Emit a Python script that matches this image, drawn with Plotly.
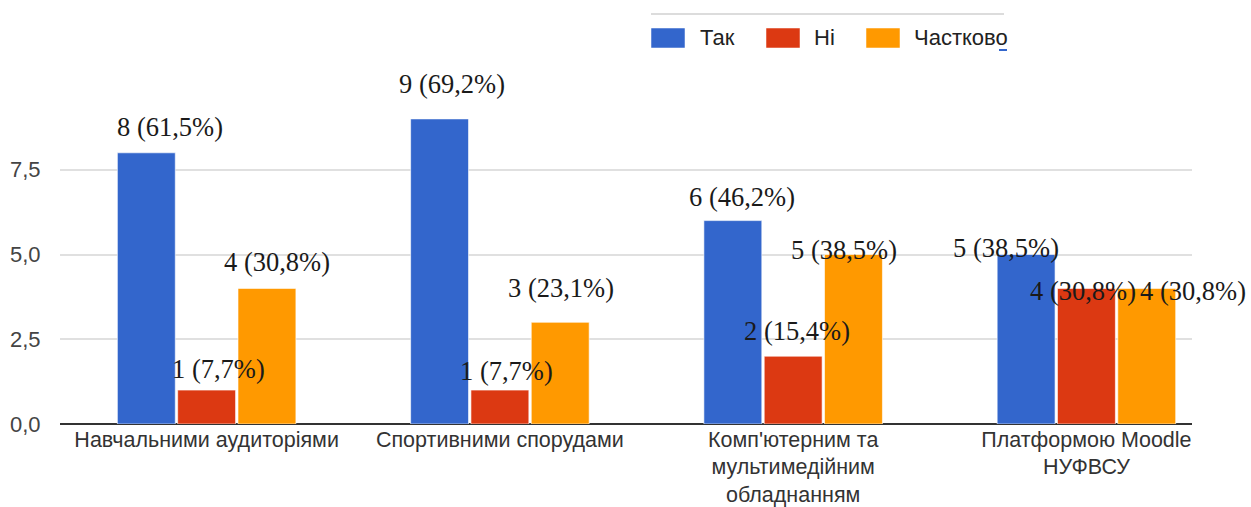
import plotly.graph_objects as go

# ---------------- data ----------------
categories = [
    "Навчальними аудиторіями",
    "Спортивними спорудами",
    "Комп'ютерним та<br>мультимедійним<br>обладнанням",
    "Платформою Moodle<br>НУФВСУ",
]
series_names = ["Так", "Ні", "Частково"]
series_colors = ["#3366CC", "#DC3912", "#FF9900"]
tak = [8, 9, 6, 5]
ni = [1, 1, 2, 4]
chastkovo = [4, 3, 5, 4]
labels_tak = ["8 (61,5%)", "9 (69,2%)", "6 (46,2%)", "5 (38,5%)"]
labels_ni = ["1 (7,7%)", "1 (7,7%)", "2 (15,4%)", "4 (30,8%)"]
labels_chastkovo = ["4 (30,8%)", "3 (23,1%)", "5 (38,5%)", "4 (30,8%)"]
ytick_vals = [0, 2.5, 5, 7.5, 10]
ytick_text = ["0,0", "2,5", "5,0", "7,5", ""]

# label nudges in pixels (style only): horizontal and vertical (centre above bar top)
label_dx = [[24, 12, 10], [12, 7, 1], [9, 4, -9], [-20, -3, 46]]
label_dy = [[26, 21, 26], [35, 19, 34], [24, 25, 5], [7, -3, -3]]

# ---------------- layout geometry ----------------
W, H = 1251, 507
ML, MR, MT, MB = 60, 59, 85, 83
X_RANGE = [-0.5, 3.36]
BARGAP = 0.383
BARGROUPGAP = 0.04
SANS = "Liberation Sans, Arial, sans-serif"
SERIF = "Liberation Serif, Times New Roman, serif"

plot_w = W - ML - MR
plot_h = H - MT - MB
px_per_cat = plot_w / (X_RANGE[1] - X_RANGE[0])
slot_px = (1 - BARGAP) / 3 * px_per_cat


def px_to_paper(px, py):
    return (px - ML) / plot_w, (H - MB - py) / plot_h


all_values = [tak, ni, chastkovo]
all_labels = [labels_tak, labels_ni, labels_chastkovo]

fig = go.Figure()
for s, (name, color, vals) in enumerate(zip(series_names, series_colors, all_values)):
    fig.add_trace(go.Bar(
        name=name, x=categories, y=vals,
        marker=dict(color=color, line=dict(color="rgba(255,255,255,0.6)", width=1)),
        showlegend=False, hoverinfo="skip",
    ))

annotations = []
for s in range(3):
    for i, cat in enumerate(categories):
        annotations.append(dict(
            x=cat, y=all_values[s][i], xref="x", yref="y",
            text=all_labels[s][i], showarrow=False,
            xanchor="center", yanchor="middle",
            xshift=(s - 1) * slot_px + label_dx[i][s],
            yshift=label_dy[i][s],
            font=dict(family=SERIF, size=26.5, color="#1a1a1a"),
        ))

# custom legend (wide swatches as in the original)
shapes = []
legend_items = [(651, 698), (766, 812), (866, 912)]
for (sx, tx), name, color in zip(legend_items, series_names, series_colors):
    x0, y0 = px_to_paper(sx, 48)
    x1, y1 = px_to_paper(sx + 34, 28)
    shapes.append(dict(type="rect", xref="paper", yref="paper", x0=x0, y0=y0, x1=x1, y1=y1,
                       fillcolor=color, line=dict(color="rgba(255,255,255,0.5)", width=1), layer="above"))
    tx_p, ty_p = px_to_paper(tx, 38)
    annotations.append(dict(x=tx_p, y=ty_p, xref="paper", yref="paper", text=name, showarrow=False,
                            xanchor="left", yanchor="middle",
                            font=dict(family=SANS, size=22, color="#222222")))

lx0, ly = px_to_paper(651, 14)
lx1, _ = px_to_paper(1004, 14)
shapes.append(dict(type="line", xref="paper", yref="paper", x0=lx0, x1=lx1, y0=ly, y1=ly,
                   line=dict(color="#dcdcdc", width=2)))
bx0, by = px_to_paper(999, 50)
bx1, _ = px_to_paper(1007, 50)
shapes.append(dict(type="line", xref="paper", yref="paper", x0=bx0, x1=bx1, y0=by, y1=by,
                   line=dict(color="#3366CC", width=2)))

fig.update_layout(
    width=W, height=H,
    margin=dict(l=ML, r=MR, t=MT, b=MB, pad=0, autoexpand=False),
    paper_bgcolor="white", plot_bgcolor="white",
    barmode="group", bargap=BARGAP, bargroupgap=BARGROUPGAP,
    showlegend=False,
    annotations=annotations, shapes=shapes,
    xaxis=dict(
        type="category", range=X_RANGE, showgrid=False, zeroline=False, automargin=False,
        showline=False, ticks="", ticklen=0,
        tickfont=dict(family=SANS, size=21.5, color="#333333"),
    ),
    yaxis=dict(
        range=[0, 10], tickvals=ytick_vals, ticktext=ytick_text, automargin=False,
        showgrid=True, gridcolor="#e0e0e0", gridwidth=2,
        zeroline=True, zerolinecolor="#333333", zerolinewidth=2,
        showline=False, ticks="outside", ticklen=14, tickcolor="rgba(0,0,0,0)",
        tickfont=dict(family=SANS, size=22, color="#444444"),
    ),
)

fig.write_html("out.html", config={"displayModeBar": False},
               post_script="document.body.style.margin='0';")
